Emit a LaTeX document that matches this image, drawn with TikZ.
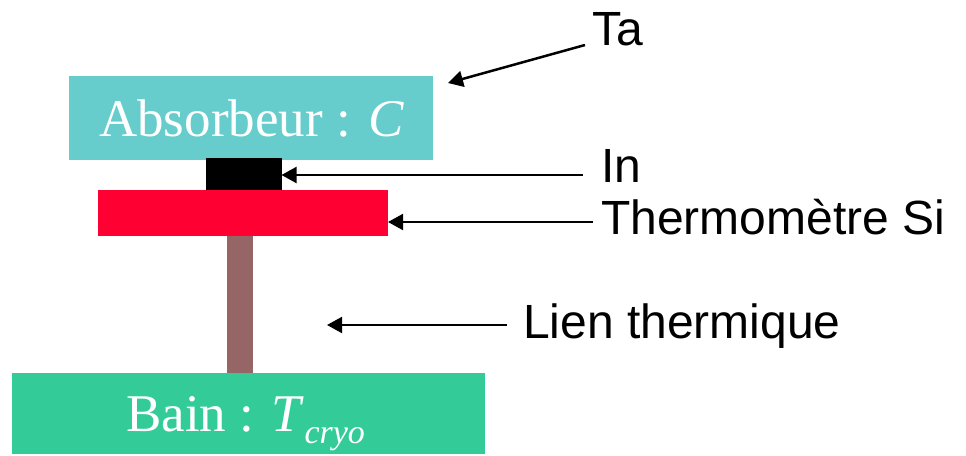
\documentclass[tikz,border=0pt]{standalone}
\usepackage{fontspec}
\setmainfont{Liberation Serif}
\newfontfamily\labfont{Liberation Sans}
\usetikzlibrary{arrows.meta}
\definecolor{abscol}{RGB}{102,204,204}
\definecolor{thermcol}{RGB}{255,0,51}
\definecolor{linkcol}{RGB}{150,102,102}
\definecolor{baincol}{RGB}{51,204,153}
\begin{document}
\begin{tikzpicture}[x=1pt,y=-1pt,
  blockbox/.style={draw=none,inner sep=0pt,outer sep=0pt},
  boxtext/.style={anchor=base west,inner sep=0pt,text=white,font=\fontsize{53}{60}\selectfont},
  labtext/.style={anchor=base west,inner sep=0pt,font=\labfont\fontsize{48}{56}\selectfont},
  arr/.style={draw=black,line width=2pt,-{Triangle[length=15pt,width=16pt]}}]
\useasboundingbox[fill=white] (0,0) rectangle (966,455);
% blocks
\node[blockbox,fill=abscol,minimum width=364pt,minimum height=84pt] (abs) at (250.5,118) {};
\node[blockbox,fill=black,minimum width=76pt,minimum height=32pt] (inblk) at (243.5,174) {};
\node[blockbox,fill=thermcol,minimum width=290pt,minimum height=46pt] (therm) at (243,213) {};
\node[blockbox,fill=linkcol,minimum width=26pt,minimum height=137pt] (link) at (240,304.5) {};
\node[blockbox,fill=baincol,minimum width=473pt,minimum height=81pt] (bain) at (248.5,413.5) {};
% block texts
\node[boxtext] (abstxt) at (99,136) {Absorbeur : \textit{C}};
\node[boxtext] (baintxt) at (126,431) {Bain : \textit{T}\raisebox{-12pt}{\fontsize{34}{40}\selectfont\textit{cryo}}};
% labels
\node[labtext] (lTa) at (592,45) {Ta};
\node[labtext] (lIn) at (601,182) {In};
\node[labtext] (lTh) at (601,234) {Thermomètre Si};
\node[labtext] (lLi) at (523,338) {Lien thermique};
% arrow ends
\coordinate (tTa) at (585,45);
\coordinate (hTa) at (448,83);
\coordinate (tIn) at (583,175);
\coordinate (tTh) at (593,222);
\coordinate (tLi) at (507,325);
\coordinate (hLi) at (327,325);
% arrows
\draw[arr,line width=2.5pt] (tTa) -- (hTa);
\draw[arr] (tIn) -- (tIn -| inblk.east);
\draw[arr] (tTh) -- (tTh -| therm.east);
\draw[arr] (tLi) -- (hLi);
\end{tikzpicture}
\end{document}
